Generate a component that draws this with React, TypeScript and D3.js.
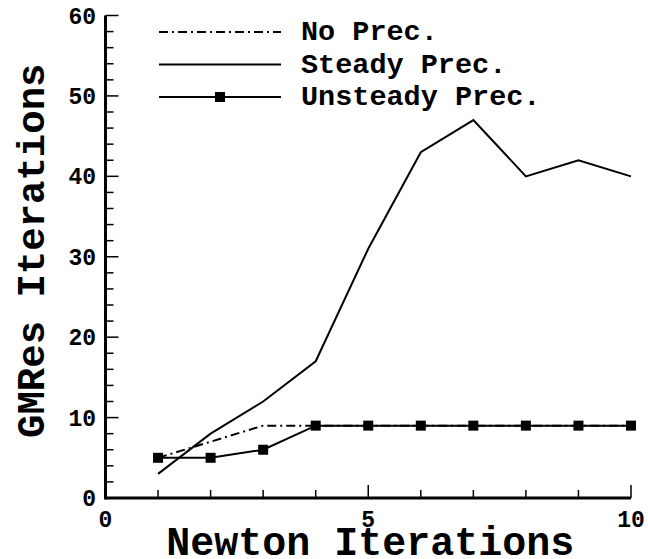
import React from "react";
import * as d3 from "d3";

const newtonIter = [1, 2, 3, 4, 5, 6, 7, 8, 9, 10];
const noPrec = [5, 7, 9, 9, 9, 9, 9, 9, 9, 9];
const steadyPrec = [3, 8, 12, 17, 31, 43, 47, 40, 42, 40];
const unsteadyPrec = [5, 5, 6, 9, 9, 9, 9, 9, 9, 9];
const xTickLabels = [0, 5, 10];
const yTickLabels = [0, 10, 20, 30, 40, 50, 60];
const legendLabels = ["No Prec.", "Steady Prec.", "Unsteady Prec."];

const W = 648;
const H = 559;
const FONT = "'Liberation Mono', 'Courier New', monospace";

export default function App() {
  const x = d3.scaleLinear().domain([0, 10]).range([105.5, 631]);
  const y = d3.scaleLinear().domain([0, 60]).range([498, 15.5]);
  const line = d3
    .line<number>()
    .x((_, i) => x(newtonIter[i]))
    .y((d) => y(d));

  const xMinor = d3.range(0, 11, 1);
  const yMinor = d3.range(0, 61, 2);

  const legendY = [32, 64.5, 97];
  const lx0 = 159;
  const lx1 = 281;

  return (
    <svg
      width={W}
      height={H}
      style={{ position: "absolute", left: 0, top: 0, background: "#fff" }}
      fontFamily={FONT}
      fontWeight="bold"
    >
      <rect x={0} y={0} width={W} height={H} fill="#fff" />
      {xMinor.map((v) => (
        <line
          key={"xt" + v}
          x1={x(v)}
          x2={x(v)}
          y1={y(0)}
          y2={y(0) - (v % 5 === 0 ? 13 : 8)}
          stroke="#000"
          strokeWidth={1.5}
        />
      ))}
      {yMinor.map((v) => (
        <line
          key={"yt" + v}
          x1={x(0)}
          x2={x(0) + (v % 10 === 0 ? 13 : 8)}
          y1={y(v)}
          y2={y(v)}
          stroke="#000"
          strokeWidth={1.5}
        />
      ))}
      <line x1={x(0)} x2={x(10)} y1={y(0)} y2={y(0)} stroke="#000" strokeWidth={3} />
      <line x1={x(0)} x2={x(0)} y1={y(0) + 1.5} y2={y(60)} stroke="#000" strokeWidth={3} />
      {yTickLabels.map((v) => (
        <text key={"yl" + v} x={96} y={y(v) + 8} textAnchor="end" fontSize={23}>
          {v}
        </text>
      ))}
      {xTickLabels.map((v) => (
        <text key={"xl" + v} x={x(v)} y={527} textAnchor="middle" fontSize={23}>
          {v}
        </text>
      ))}
      <text x={x(5) + 2} y={555} textAnchor="middle" fontSize={40}>
        Newton Iterations
      </text>
      <text
        transform={`translate(44, ${(y(0) + y(60)) / 2 - 6}) rotate(-90)`}
        textAnchor="middle"
        fontSize={39}
      >
        GMRes Iterations
      </text>
      <path d={line(noPrec) || ""} fill="none" stroke="#000" strokeWidth={2} strokeDasharray="9,4,2,4" />
      <path d={line(steadyPrec) || ""} fill="none" stroke="#000" strokeWidth={2} />
      <path d={line(unsteadyPrec) || ""} fill="none" stroke="#000" strokeWidth={2} />
      {unsteadyPrec.map((v, i) => (
        <rect key={"m" + i} x={x(newtonIter[i]) - 5} y={y(v) - 5} width={10} height={10} fill="#000" />
      ))}
      <line x1={lx0} x2={lx1} y1={legendY[0]} y2={legendY[0]} stroke="#000" strokeWidth={2} strokeDasharray="9,4,2,4" />
      <line x1={lx0} x2={lx1} y1={legendY[1]} y2={legendY[1]} stroke="#000" strokeWidth={2} />
      <line x1={lx0} x2={lx1} y1={legendY[2]} y2={legendY[2]} stroke="#000" strokeWidth={2} />
      <rect x={(lx0 + lx1) / 2 - 5} y={legendY[2] - 5} width={10} height={10} fill="#000" />
      {legendLabels.map((t, i) => (
        <text key={t} x={301} y={legendY[i] + 8} fontSize={28.5} xmlSpace="preserve">
          {t}
        </text>
      ))}
    </svg>
  );
}
